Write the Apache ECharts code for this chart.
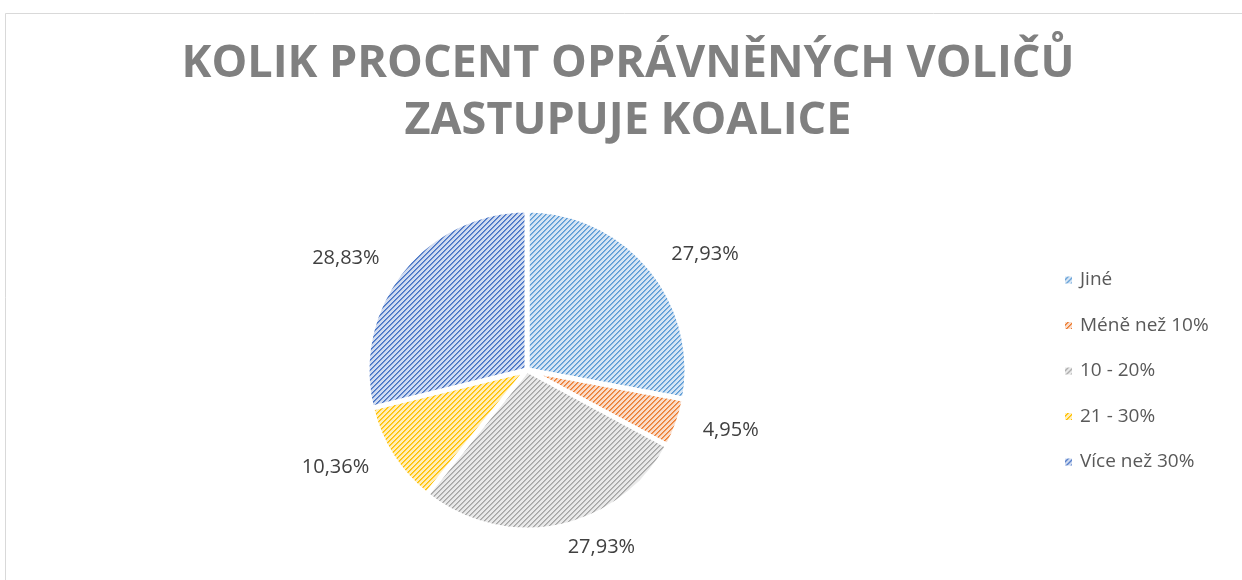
<!DOCTYPE html>
<html>
<head>
<meta charset="utf-8">
<script src="https://cdn.jsdelivr.net/npm/echarts@6/dist/echarts.min.js"></script>
<style>
  html, body { margin: 0; padding: 0; background: #fff; }
  #chart { width: 1242px; height: 580px; }
</style>
</head>
<body>
<div id="chart"></div>
<script>
// data
const categories = ['Jiné', 'Méně než 10%', '10 - 20%', '21 - 30%', 'Více než 30%']
const shares = [27.93, 4.95, 27.93, 10.36, 28.83]

// office palette: stripe colour / light background of the hatch
const stripeColors = ['#5B9BD5', '#ED7D31', '#A5A5A5', '#FFC000', '#4472C4']
const lightColors = ['#d6e5f4', '#f9dccb', '#e9e9e9', '#ffeebb', '#d0dbf0']

// hatched fill like the "wide upward diagonal" pattern
const makeHatch = (light, dark) => {
  const c = document.createElement('canvas')
  c.width = 5
  c.height = 5
  const ctx = c.getContext('2d')
  ctx.fillStyle = light
  ctx.fillRect(0, 0, 5, 5)
  ctx.fillStyle = dark
  for (let i = 0; i < 5; i++) {
    ctx.fillRect(i, 4 - i, 1, 1)
  }
  ctx.globalAlpha = 0.7
  for (let i = 0; i < 5; i++) {
    ctx.fillRect(i, (5 - i) % 5, 1, 1)
  }
  return c
}

const pieData = categories.map((name, i) => ({
  name: name,
  value: shares[i],
  itemStyle: {
    color: { image: makeHatch(lightColors[i], stripeColors[i]), repeat: 'repeat' },
  },
}))

const chart = echarts.init(document.getElementById('chart'))

chart.setOption({
  animation: false,
  backgroundColor: '#fff',
  graphic: [
    {
      type: 'rect',
      left: 3,
      top: 11,
      shape: { width: 1300, height: 640 },
      style: { fill: 'none', stroke: '#d9d9d9', lineWidth: 1 },
      silent: true,
    },
  ],
  title: {
    text: 'KOLIK PROCENT OPRÁVNĚNÝCH VOLIČŮ\nZASTUPUJE KOALICE',
    left: 628,
    textAlign: 'center',
    top: 36,
    padding: 0,
    textStyle: {
      fontFamily: 'Open Sans',
      fontWeight: 'bold',
      fontSize: 45,
      lineHeight: 57,
      color: '#808080',
    },
  },
  legend: {
    orient: 'vertical',
    left: 1058,
    top: 264,
    itemWidth: 9,
    itemHeight: 9,
    itemGap: 23.5,
    icon: 'rect',
    data: categories,
    textStyle: {
      fontFamily: 'Open Sans',
      fontSize: 19,
      lineHeight: 22,
      color: '#595959',
      padding: [0, 0, 0, 2],
    },
  },
  series: [
    {
      type: 'pie',
      center: [527, 370],
      radius: 160,
      startAngle: 90,
      clockwise: true,
      data: pieData,
      itemStyle: {
        borderColor: '#fff',
        borderWidth: 5,
      },
      label: {
        show: true,
        position: 'outside',
        formatter: (p) => p.value.toFixed(2).replace('.', ',') + '%',
        fontFamily: 'Open Sans',
        fontSize: 20,
        color: '#404040',
      },
      labelLine: {
        show: false,
        length: 21,
        length2: 0,
      },
      emphasis: { disabled: true },
    },
  ],
})
</script>
</body>
</html>
